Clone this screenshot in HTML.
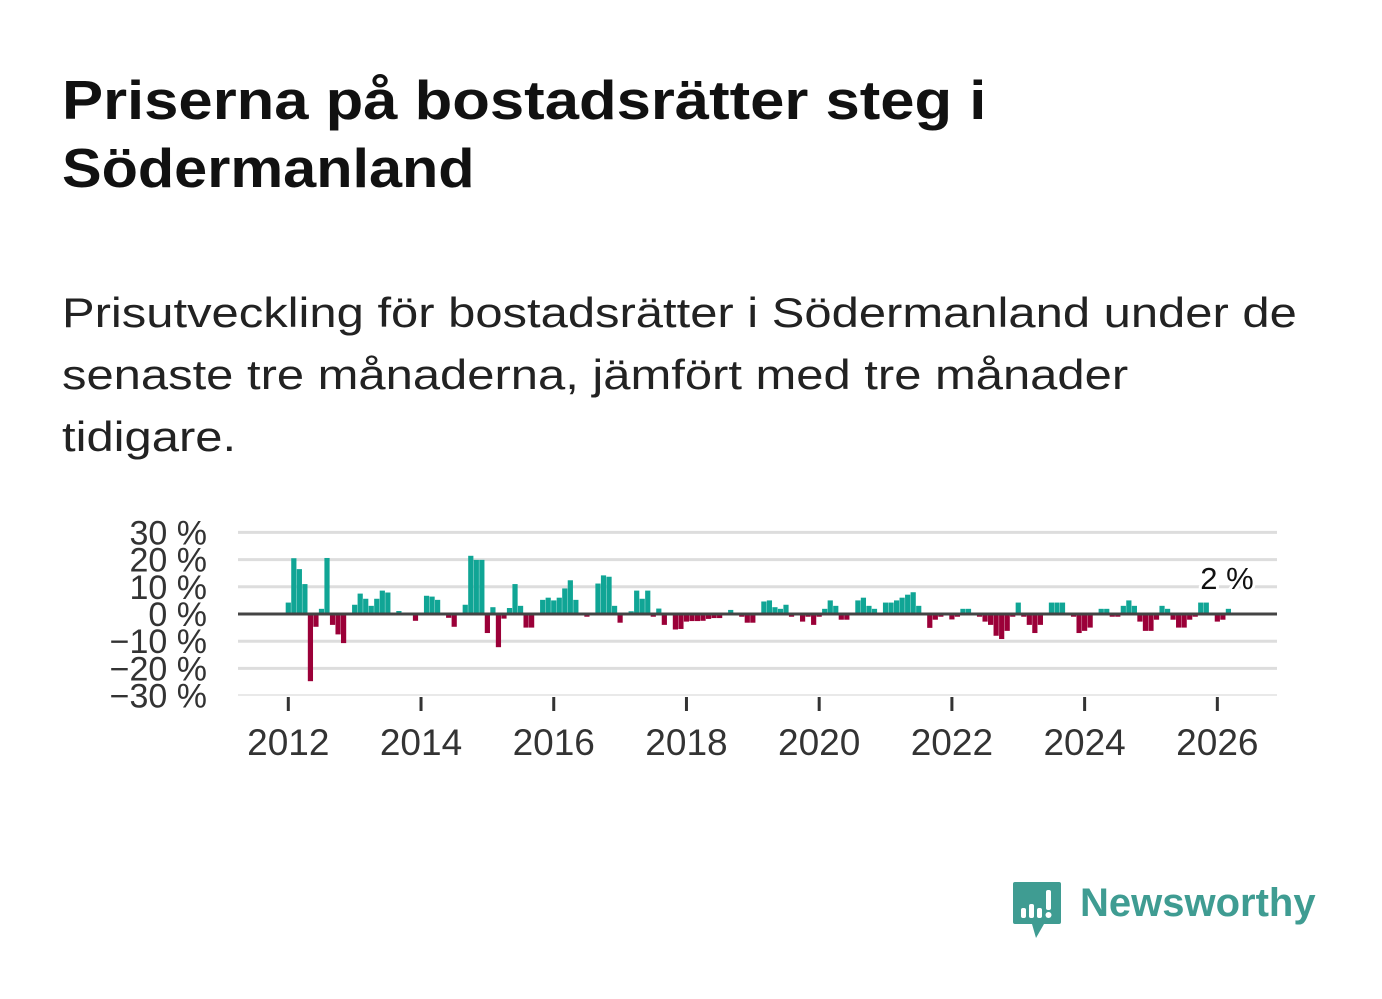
<!DOCTYPE html>
<html><head><meta charset="utf-8"><style>
body{margin:0;width:1382px;height:999px;background:#fff;overflow:hidden;font-family:"Liberation Sans",sans-serif;position:relative}
.t{position:absolute;left:62px;font-weight:bold;font-size:55px;color:#111;white-space:nowrap;line-height:68px;top:66px}
.s{position:absolute;left:62px;font-size:42px;color:#222;white-space:nowrap;line-height:62px;top:282px}
.l{display:block;transform-origin:0 0}
</style></head><body>
<div class="t"><span class="l" style="transform:scaleX(1.12)">Priserna på bostadsrätter steg i</span><span class="l" style="transform:scaleX(1.08)">Södermanland</span></div>
<div class="s"><span class="l" style="transform:scaleX(1.165)">Prisutveckling för bostadsrätter i Södermanland under de</span><span class="l" style="transform:scaleX(1.165)">senaste tre månaderna, jämfört med tre månader</span><span class="l" style="transform:scaleX(1.165)">tidigare.</span></div>
<svg id="c" width="1382" height="999" style="position:absolute;left:0;top:0"></svg>
<div style="position:absolute;left:1012px;top:880px;width:320px;height:60px">
<svg width="50" height="60" style="position:absolute;left:0;top:0"><path d="M3 2h44q2 0 2 2v38q0 2-2 2H32l-8 14-4-14H3q-2 0-2-2V4q0-2 2-2z" fill="#3f9c92"/><rect x="9" y="28" width="5" height="10" rx="2" fill="#fff"/><rect x="17" y="24" width="5" height="14" rx="2" fill="#fff"/><rect x="25" y="28" width="5" height="10" rx="2" fill="#fff"/><rect x="34" y="10" width="5" height="20" rx="2" fill="#fff"/><circle cx="36.5" cy="35" r="3" fill="#fff"/></svg>
<div style="position:absolute;left:68px;top:-2px;font-size:40px;font-weight:bold;color:#3f9c92;line-height:50px">Newsworthy</div></div>
<script>
const values=[4.2,20.5,16.5,11,-24.7,-4.7,1.9,20.6,-4,-7.5,-10.7,0,
3.4,7.5,5.6,3,5.6,8.6,7.9,0,1.1,0,0,-2.5,
0,6.7,6.4,5.2,0,-1.4,-4.7,0,3.4,21.4,19.9,19.9,
-7,2.5,-12.2,-1.7,2.2,11,3,-5,-5,0,5.2,6,
5,6,9.4,12.4,5.2,0,-1,0,11.2,14.2,13.7,3,
-3.2,0,1,8.6,5.6,8.6,-1,2,-4,0,-5.7,-5.5,
-2.8,-2.6,-2.6,-2.5,-1.8,-1.5,-1.5,0,1.5,0,-1,-3.2,
-3.2,0,4.6,5,2.5,1.9,3.4,-1,0,-2.8,-1,-4,
-1,1.9,5,3,-2.1,-2.1,0,5,6,3,1.9,0,
4.2,4.2,5,6,7.1,8,3,0,-5.1,-2.1,-1,0,
-2,-1,1.9,1.9,0,-1,-2.8,-4,-8,-9.2,-6.2,-1,
4.2,-1,-4,-7,-4,0,4.2,4.2,4.2,0,-1,-7,
-6.2,-5,0,1.9,1.9,-1,-1,3,5,3,-2.8,-6.2,
-6.2,-2.1,3,1.9,-2.1,-5,-5,-2.1,-1,4.2,4.2,0,
-2.8,-2.1,1.9];
const startYear=2012;
const yTicks=[30,20,10,0,-10,-20,-30];
const xTickYears=[2012,2014,2016,2018,2020,2022,2024,2026];
const lastLabel="2 %";
const NS="http://www.w3.org/2000/svg",svg=document.getElementById('c');
const x=n=>288.3+5.53*n, xy=yr=>x((yr-startYear)*12), y=v=>614-v*2.72;
function mk(t,a){const e=document.createElementNS(NS,t);for(const k in a)e.setAttribute(k,a[k]);svg.appendChild(e);return e;}
yTicks.forEach(v=>{
 if(v!==0&&v!==-30){const g=mk('line',{x1:238,x2:1277,y1:y(v),y2:y(v),stroke:'#ddd','stroke-width':3});
 
 }
 const t=mk('text',{x:207,y:y(v)+12,'text-anchor':'end','font-size':34,fill:'#333'});
 t.textContent=(v<0?'−'+(-v):v)+' %';
 
 
});
const base=mk('line',{x1:238,x2:1277,y1:695,y2:695,stroke:'#e2e2e2','stroke-width':1.5});


values.forEach((v,i)=>{
 const r=mk('rect',{x:x(i)-2.6,width:5.2,y:Math.min(y(v),614),height:Math.abs(y(v)-614),fill:v>=0?'#10a595':'#9b0038'});
 
 
});
const z=mk('line',{x1:238,x2:1277,y1:614,y2:614,stroke:'#444','stroke-width':3});


xTickYears.forEach(yr=>{
 const tk=mk('line',{x1:xy(yr),x2:xy(yr),y1:697,y2:711,stroke:'#333','stroke-width':3});
 
 
 const t=mk('text',{x:xy(yr),y:755,'text-anchor':'middle','font-size':37,fill:'#333'});
 t.textContent=yr;
 
 
});
const lt=mk('text',{x:1227,y:589,'text-anchor':'middle','font-size':31,fill:'#111',stroke:'#fff','stroke-width':6,'paint-order':'stroke'});
lt.textContent=lastLabel;


</script>
</body></html>
